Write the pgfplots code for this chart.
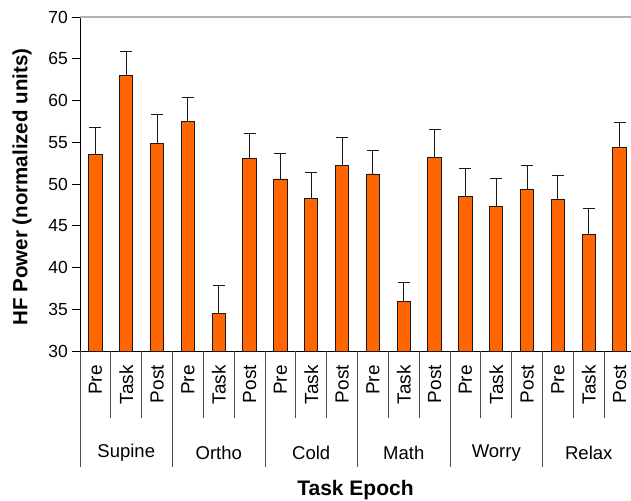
\documentclass[border=0pt]{standalone}
\usepackage{fontspec}
\setmainfont{Liberation Sans}
\usepackage{pgfplots}
\pgfplotsset{compat=1.18}
\usepackage{pgfplotstable}
\definecolor{barorange}{HTML}{FF6600}
\pgfplotstableread{
x y err
0 53.5 3.3
1 63.0 2.9
2 54.8 3.5
3 57.5 2.8
4 34.5 3.3
5 53.0 3.0
6 50.6 3.0
7 48.3 3.1
8 52.2 3.4
9 51.2 2.8
10 35.9 2.3
11 53.2 3.3
12 48.5 3.3
13 47.3 3.3
14 49.3 2.9
15 48.1 2.9
16 43.9 3.2
17 54.4 3.0
}\datatable
\begin{document}
\begin{tikzpicture}
\begin{axis}[
 name=ax,
 scale only axis, width=551pt, height=334pt,
 xmin=-0.5, xmax=17.37, ymin=30, ymax=70,
 axis lines*=left,
 axis line style={black, line width=0.9pt},
 ytick={30,35,...,70},
 xtick={0,...,17},
 xticklabels={Pre,Task,Post,Pre,Task,Post,Pre,Task,Post,Pre,Task,Post,Pre,Task,Post,Pre,Task,Post},
 x tick style={draw=none},
 y tick style={black, line width=0.9pt},
 tick align=outside, major tick length=8pt,
 /pgf/number format/assume math mode=true,
 yticklabel style={font=\fontsize{17.5}{17.5}\selectfont, inner sep=4pt},
 xticklabel style={font=\fontsize{19}{19}\selectfont, yshift=-6pt, rotate=90, anchor=east, inner sep=0pt},
 clip mode=individual,
]
\addplot[ybar, bar width=13.3pt, fill=barorange, draw=black!90, line width=0.9pt,
  error bars/.cd, y dir=plus, y explicit,
  error bar style={black!90, line width=1pt},
  error mark options={rotate=90, mark size=6pt, line width=1pt, black!90}]
  table[x=x, y=y, y error=err] {\datatable};
\draw[gray!60, line width=1.2pt] (rel axis cs:0,1) -- (rel axis cs:1,1);
\pgfplotsinvokeforeach{0.5,1.5,...,16.5}{\draw[black!70, line width=0.9pt] (axis cs:#1,30) -- ++(0pt,-67pt);}
\pgfplotsinvokeforeach{-0.5,2.5,5.5,8.5,11.5,14.5}{\draw[black!70, line width=0.9pt] (axis cs:#1,30) -- ++(0pt,-116pt);}
\node[font=\fontsize{18.5}{18.5}\selectfont] at ([yshift=-102pt]axis cs:1,30) {Supine};
\node[font=\fontsize{18.5}{18.5}\selectfont] at ([yshift=-102pt]axis cs:4,30) {Ortho};
\node[font=\fontsize{18.5}{18.5}\selectfont] at ([yshift=-102pt]axis cs:7,30) {Cold};
\node[font=\fontsize{18.5}{18.5}\selectfont] at ([yshift=-102pt]axis cs:10,30) {Math};
\node[font=\fontsize{18.5}{18.5}\selectfont] at ([yshift=-102pt]axis cs:13,30) {Worry};
\node[font=\fontsize{18.5}{18.5}\selectfont] at ([yshift=-102pt]axis cs:16,30) {Relax};
\node[font=\bfseries\fontsize{21}{21}\selectfont] at ([yshift=-139pt]rel axis cs:0.5,0) {Task Epoch};
\node[font=\bfseries\fontsize{20.5}{20.5}\selectfont, rotate=90] at ([xshift=-58pt, yshift=-3pt]rel axis cs:0,0.5) {HF Power (normalized units)};
\end{axis}
\pgfresetboundingbox
\path[use as bounding box] ([shift={(-80pt,-149pt)}]ax.south west) rectangle ([shift={(0pt,17pt)}]ax.north east);
\end{tikzpicture}
\end{document}
